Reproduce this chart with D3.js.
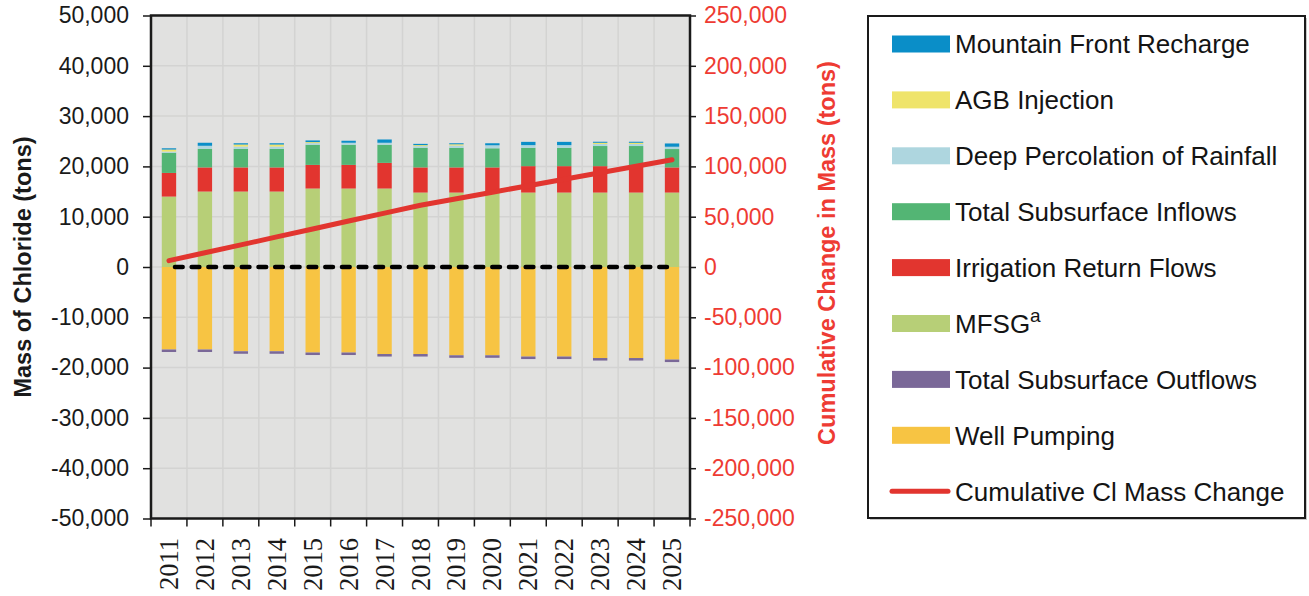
<!DOCTYPE html>
<html>
<head>
<meta charset="utf-8">
<script src="https://cdn.jsdelivr.net/npm/d3@7/dist/d3.min.js"></script>
<style>
  html, body { margin: 0; padding: 0; background: #ffffff; }
  svg { display: block; }
</style>
</head>
<body>
<svg id="chart" width="1309" height="596"></svg>
<script>
// Annual chloride mass budget (tons) and cumulative change
const years = [2011, 2012, 2013, 2014, 2015, 2016, 2017, 2018, 2019, 2020, 2021, 2022, 2023, 2024, 2025];

// Inflows (stacked upward from zero, bottom to top)
const mfsg          = [14000, 15000, 15000, 15000, 15600, 15600, 15600, 14800, 14800, 14800, 14800, 14800, 14800, 14800, 14800];
const irrigation    = [4700, 4800, 4800, 4800, 4700, 4700, 5100, 5000, 5000, 5000, 5250, 5250, 5250, 5250, 5000];
const subInflows    = [4000, 3700, 3700, 3700, 4000, 4000, 3600, 3900, 3900, 3800, 3650, 3650, 4000, 4000, 3650];
const deepPerc      = [250, 600, 450, 450, 330, 400, 400, 330, 450, 600, 530, 530, 400, 400, 460];
const agbInjection  = [400, 0, 400, 400, 200, 0, 0, 200, 250, 0, 0, 0, 250, 250, 0];
const mountainFront = [250, 600, 250, 250, 330, 400, 650, 250, 200, 400, 650, 650, 200, 200, 650];

// Outflows (stacked downward from zero)
const wellPumping   = [-16400, -16400, -16750, -16750, -17000, -17000, -17300, -17300, -17550, -17550, -17800, -17800, -18100, -18100, -18400];
const subOutflows   = [-500, -500, -500, -500, -500, -500, -500, -500, -500, -500, -500, -500, -500, -500, -500];

// Cumulative Cl mass change (right axis)
const cumulative    = [6300, 14200, 22000, 29900, 37800, 45700, 53500, 61400, 67900, 74300, 80800, 87200, 93700, 100100, 106600];

const leftTicks  = [-50000, -40000, -30000, -20000, -10000, 0, 10000, 20000, 30000, 40000, 50000];
const rightTicks = [-250000, -200000, -150000, -100000, -50000, 0, 50000, 100000, 150000, 200000, 250000];

const posSeries = [
  { name: "MFSG", values: mfsg, color: "#b7cf77" },
  { name: "Irrigation Return Flows", values: irrigation, color: "#e2352f" },
  { name: "Total Subsurface Inflows", values: subInflows, color: "#53b574" },
  { name: "Deep Percolation of Rainfall", values: deepPerc, color: "#aed6df" },
  { name: "AGB Injection", values: agbInjection, color: "#efe46a" },
  { name: "Mountain Front Recharge", values: mountainFront, color: "#0a8ec8" }
];
const negSeries = [
  { name: "Well Pumping", values: wellPumping, color: "#f7c443" },
  { name: "Total Subsurface Outflows", values: subOutflows, color: "#7a6898" }
];

const legendItems = [
  { label: "Mountain Front Recharge", color: "#0a8ec8" },
  { label: "AGB Injection", color: "#efe46a" },
  { label: "Deep Percolation of Rainfall", color: "#aed6df" },
  { label: "Total Subsurface Inflows", color: "#53b574" },
  { label: "Irrigation Return Flows", color: "#e2352f" },
  { label: "MFSG", sup: "a", color: "#b7cf77" },
  { label: "Total Subsurface Outflows", color: "#7a6898" },
  { label: "Well Pumping", color: "#f7c443" },
  { label: "Cumulative Cl Mass Change", color: "#e2352f", line: true }
];

const locale = d3.formatLocale({ decimal: ".", thousands: ",", grouping: [3], currency: ["$", ""], minus: "-" });
const fmt = locale.format(",");

const svg = d3.select("#chart");
const plot = { left: 151, right: 690, top: 15.5, bottom: 518.5 };

const x = d3.scaleBand().domain(years).range([plot.left, plot.right]).padding(0);
const y = d3.scaleLinear().domain([-50000, 50000]).range([plot.bottom, plot.top]);
const y2 = d3.scaleLinear().domain([-250000, 250000]).range([plot.bottom, plot.top]);
const step = x.step();
const barW = step * 0.4;

// plot background
svg.append("rect")
  .attr("x", plot.left).attr("y", plot.top)
  .attr("width", plot.right - plot.left).attr("height", plot.bottom - plot.top)
  .attr("fill", "#e1e1e0");

// gridlines
const grid = svg.append("g").attr("stroke", "#d3d3d2").attr("stroke-width", 1.5);
grid.selectAll("line.h").data(leftTicks).join("line")
  .attr("x1", plot.left).attr("x2", plot.right)
  .attr("y1", d => y(d)).attr("y2", d => y(d));
grid.selectAll("line.v").data(years.slice(1)).join("line")
  .attr("x1", d => x(d)).attr("x2", d => x(d))
  .attr("y1", plot.top).attr("y2", plot.bottom);

// stacked bars
function drawStack(series) {
  const base = years.map(() => 0);
  series.forEach(s => {
    svg.append("g").attr("fill", s.color)
      .selectAll("rect").data(years).join("rect")
      .attr("x", d => x(d) + (step - barW) / 2)
      .attr("width", barW)
      .attr("y", (d, i) => y(Math.max(base[i], base[i] + s.values[i])))
      .attr("height", (d, i) => Math.abs(y(base[i]) - y(base[i] + s.values[i])));
    years.forEach((d, i) => { base[i] += s.values[i]; });
  });
}
drawStack(posSeries);
drawStack(negSeries);

// zero reference line
svg.append("line")
  .attr("x1", x(years[0]) + step / 2 + 6)
  .attr("x2", x(years[years.length - 1]) + step / 2 - 4)
  .attr("y1", y(0)).attr("y2", y(0))
  .attr("stroke", "#000").attr("stroke-width", 4.5)
  .attr("stroke-linecap", "round")
  .attr("stroke-dasharray", "7.7,9");

// cumulative change line
const line = d3.line()
  .x((d, i) => x(years[i]) + step / 2)
  .y(d => y2(d));
svg.append("path")
  .datum(cumulative)
  .attr("d", line)
  .attr("fill", "none")
  .attr("stroke", "#e2352f")
  .attr("stroke-width", 5)
  .attr("stroke-linecap", "round")
  .attr("stroke-linejoin", "round");

// frame
svg.append("rect")
  .attr("x", plot.left).attr("y", plot.top)
  .attr("width", plot.right - plot.left).attr("height", plot.bottom - plot.top)
  .attr("fill", "none").attr("stroke", "#1a1a1a").attr("stroke-width", 2.5);

// left axis
const leftAxis = d3.axisLeft(y).tickValues(leftTicks).tickFormat(fmt).tickSize(8).tickPadding(14);
const gL = svg.append("g").attr("transform", `translate(${plot.left},0)`).call(leftAxis);
gL.select(".domain").remove();
gL.selectAll(".tick line").attr("stroke", "#1a1a1a").attr("stroke-width", 1.5);
gL.selectAll(".tick text").attr("font-family", "Liberation Sans, Arial, sans-serif")
  .attr("font-size", 23).attr("fill", "#1a1a1a");

// right axis
const rightAxis = d3.axisRight(y2).tickValues(rightTicks).tickFormat(fmt).tickSize(6).tickPadding(8);
const gR = svg.append("g").attr("transform", `translate(${plot.right},0)`).call(rightAxis);
gR.select(".domain").remove();
gR.selectAll(".tick line").attr("stroke", "#1a1a1a").attr("stroke-width", 1.5);
gR.selectAll(".tick text").attr("font-family", "Liberation Sans, Arial, sans-serif")
  .attr("font-size", 23).attr("fill", "#ee3b33");

// bottom axis: ticks at band boundaries, year labels centred in bands
const gB = svg.append("g");
gB.selectAll("line").data(d3.range(years.length + 1)).join("line")
  .attr("x1", i => plot.left + i * step).attr("x2", i => plot.left + i * step)
  .attr("y1", plot.bottom).attr("y2", plot.bottom + 8)
  .attr("stroke", "#1a1a1a").attr("stroke-width", 1.5);
gB.selectAll("text").data(years).join("text")
  .attr("transform", d => `translate(${x(d) + step / 2},538) rotate(-90)`)
  .attr("text-anchor", "end")
  .attr("dy", "0.34em")
  .attr("font-family", "Liberation Serif, Times New Roman, serif")
  .attr("font-size", 26.5)
  .attr("fill", "#1a1a1a")
  .text(d => d);

// axis titles
svg.append("text")
  .attr("transform", `translate(22.5,${(plot.top + plot.bottom) / 2}) rotate(-90)`)
  .attr("text-anchor", "middle").attr("dy", "0.35em")
  .attr("font-family", "Liberation Sans, Arial, sans-serif")
  .attr("font-weight", "bold").attr("font-size", 23.5).attr("fill", "#1a1a1a")
  .text("Mass of Chloride (tons)");
svg.append("text")
  .attr("transform", `translate(827,253) rotate(-90)`)
  .attr("text-anchor", "middle").attr("dy", "0.35em")
  .attr("font-family", "Liberation Sans, Arial, sans-serif")
  .attr("font-weight", "bold").attr("font-size", 23.5).attr("fill", "#ee3b33")
  .text("Cumulative Change in Mass (tons)");

// legend
const lg = svg.append("g");
lg.append("rect").attr("x", 870).attr("y", 18).attr("width", 437).attr("height", 502)
  .attr("fill", "#c8c8c8");
lg.append("rect").attr("x", 868).attr("y", 16).attr("width", 437).attr("height", 502)
  .attr("fill", "#ffffff").attr("stroke", "#1a1a1a").attr("stroke-width", 2);
const rowY = i => 44 + i * 55.9;
legendItems.forEach((it, i) => {
  const cy = rowY(i);
  if (it.line) {
    lg.append("line").attr("x1", 892).attr("x2", 948).attr("y1", cy).attr("y2", cy)
      .attr("stroke", it.color).attr("stroke-width", 5).attr("stroke-linecap", "round");
  } else {
    lg.append("rect").attr("x", 892).attr("y", cy - 8.5).attr("width", 58).attr("height", 17)
      .attr("fill", it.color);
  }
  const t = lg.append("text").attr("x", 955).attr("y", cy).attr("dy", "0.36em")
    .attr("font-family", "Liberation Sans, Arial, sans-serif")
    .attr("font-size", 26).attr("fill", "#141414")
    .text(it.label);
  if (it.sup) {
    t.append("tspan").attr("dy", "-0.55em").attr("font-size", 19).text(it.sup);
  }
});
</script>
</body>
</html>
